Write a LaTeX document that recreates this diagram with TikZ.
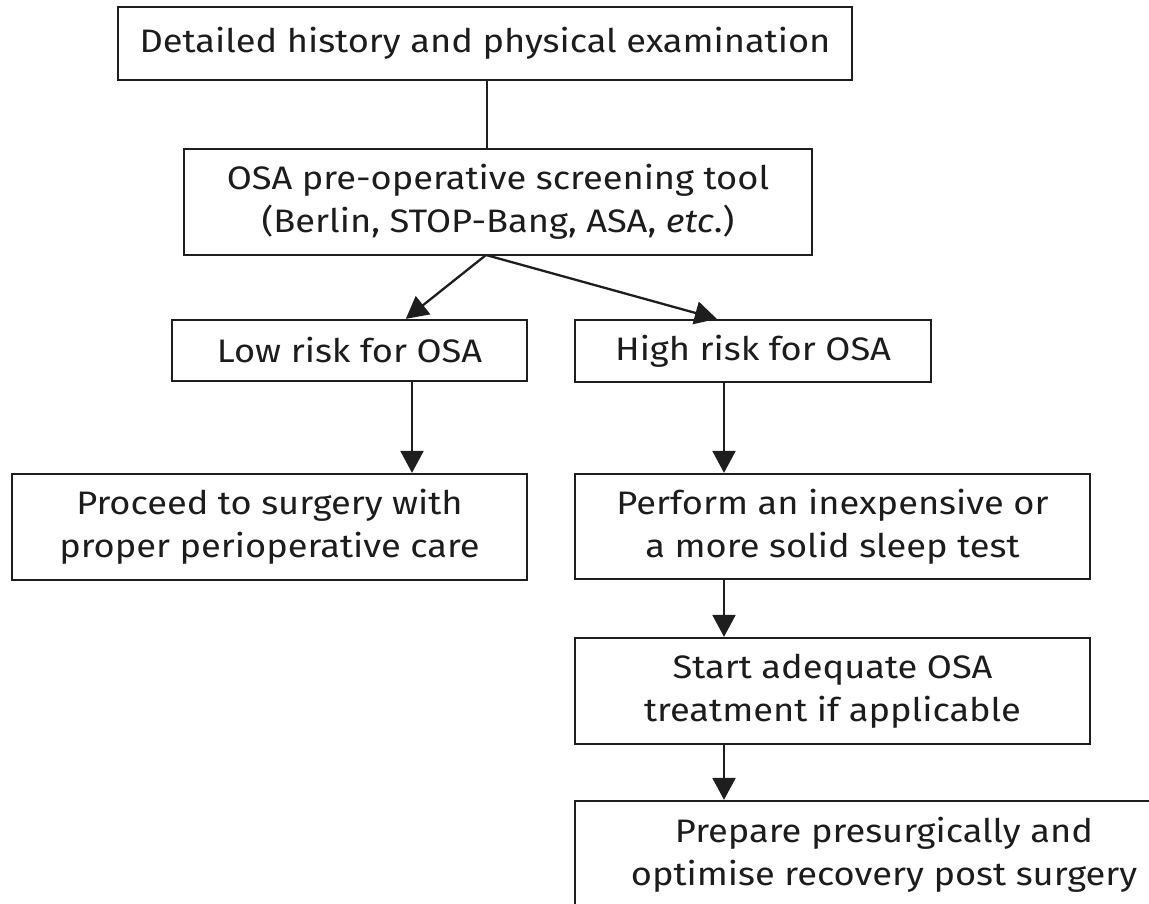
\documentclass[tikz,border=0pt]{standalone}
\usepackage{fontspec}
\setmainfont{Fira Sans}[FakeStretch=1.115]
\usetikzlibrary{arrows.meta}
\definecolor{linec}{HTML}{1E1E1E}
\definecolor{textc}{HTML}{1C1C1C}
\begin{document}
\begin{tikzpicture}[x=1pt,y=-1pt,
  box/.style={draw=linec, line width=2.3pt, rectangle, inner sep=0pt, align=center,
    text=textc, font=\fontsize{32.5pt}{43pt}\selectfont},
  arr/.style={draw=linec, line width=2.3pt, -{Triangle[length=22pt,width=23pt]}},
  link/.style={draw=linec, line width=2.3pt}]
\useasboundingbox (0,0) rectangle (1149,903);
\clip (0,0) rectangle (1149,903);
\node[box, minimum width=734pt, minimum height=73pt] (top) at (485,43.5)
  {Detailed history and physical examination};
\node[box, minimum width=628pt, minimum height=106pt] (b2) at (498,202)
  {OSA pre-operative screening tool\\(Berlin, STOP-Bang, ASA, \textit{etc}.)};
\node[box, minimum width=355pt, minimum height=61pt] (low) at (349.5,350.5)
  {Low risk for OSA};
\node[box, minimum width=356pt, minimum height=62pt] (high) at (753,351)
  {High risk for OSA};
\node[box, minimum width=515pt, minimum height=106pt] (proceed) at (269.5,527)
  {Proceed to surgery with\\proper perioperative care};
\node[box, minimum width=515pt, minimum height=105pt] (perform) at (832.5,526.5)
  {Perform an inexpensive or\\a more solid sleep test};
\node[box, minimum width=515pt, minimum height=106pt] (start) at (832.5,691)
  {Start adequate OSA\\treatment if applicable};
\node[box, minimum width=618pt, minimum height=108pt] (prepare) at (884,855)
  {Prepare presurgically and\\optimise recovery post surgery};
\coordinate (colT) at (487,0);
\coordinate (colL) at (412,0);
\coordinate (colR) at (724,0);
\coordinate (split) at (486,255);
\draw[link] (top.south -| colT) -- (b2.north -| colT);
\draw[arr] (split) -- ([xshift=235pt]low.north west);
\draw[arr] (split) -- ([xshift=143pt]high.north west);
\draw[arr] (low.south -| colL) -- (proceed.north -| colL);
\draw[arr] (high.south -| colR) -- (perform.north -| colR);
\draw[arr] (perform.south -| colR) -- (start.north -| colR);
\draw[arr] (start.south -| colR) -- (prepare.north -| colR);
\end{tikzpicture}
\end{document}
